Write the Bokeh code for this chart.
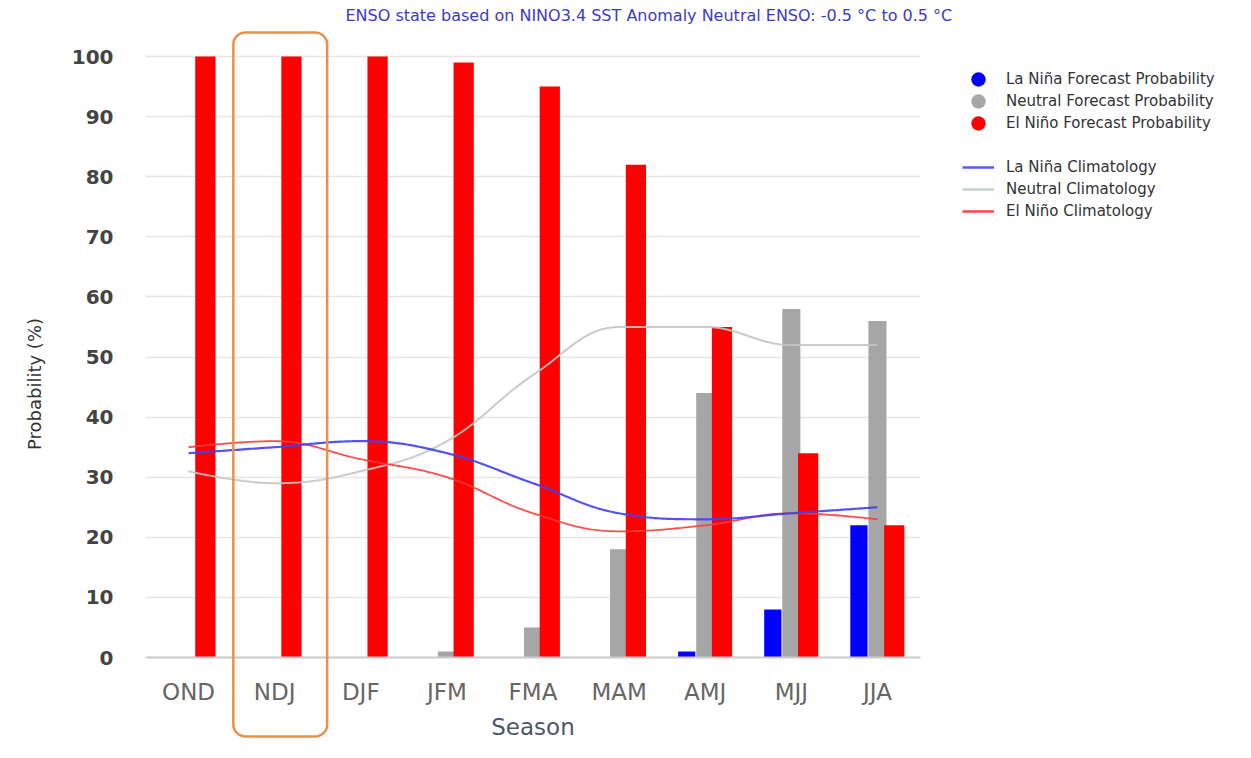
import numpy as np
from bokeh.plotting import figure
from bokeh.layouts import row
from bokeh.models import (Range1d, Legend, LegendItem, BoxAnnotation, FixedTicker)
from bokeh.embed import file_html
from bokeh.resources import INLINE

# ---------------- data ----------------
seasons = ["OND", "NDJ", "DJF", "JFM", "FMA", "MAM", "AMJ", "MJJ", "JJA"]
lanina_fcst = [0, 0, 0, 0, 0, 0, 1, 8, 22]
neutral_fcst = [0, 0, 0, 1, 5, 18, 44, 58, 56]
elnino_fcst = [100, 100, 100, 99, 95, 82, 55, 34, 22]
lanina_clim = [34, 35, 36, 34, 29, 24, 23, 24, 25]
neutral_clim = [31, 29, 31, 36, 47, 55, 55, 52, 52]
elnino_clim = [35, 36, 33, 30, 24, 21, 22, 24, 23]
y_ticks = [0, 10, 20, 30, 40, 50, 60, 70, 80, 90, 100]
highlight_season = "NDJ"
title_text = "ENSO state based on NINO3.4 SST Anomaly Neutral ENSO: -0.5 \u00b0C to 0.5 \u00b0C"

FONT = "DejaVu Sans"
C_LANINA, C_NEUTRAL, C_ELNINO = "#0000ff", "#a6a6a6", "#ff0000"
xs = np.arange(len(seasons))


def spline_path(xv, yv, smoothing=1.5, n=40):
    """Highcharts-style spline through the given points (rendering only)."""
    pts = list(zip([float(v) for v in xv], [float(v) for v in yv]))
    N = len(pts)
    lc = [None] * N
    rc = [None] * N
    d = smoothing + 1
    for i in range(1, N - 1):
        px, py = pts[i]
        lx, ly = pts[i - 1]
        nx, ny = pts[i + 1]
        lcx = (smoothing * px + lx) / d
        lcy = (smoothing * py + ly) / d
        rcx = (smoothing * px + nx) / d
        rcy = (smoothing * py + ny) / d
        corr = ((rcy - lcy) * (rcx - px)) / (rcx - lcx) + py - rcy
        lcy += corr
        rcy += corr
        if lcy > ly and lcy > py:
            lcy = max(ly, py); rcy = 2 * py - lcy
        elif lcy < ly and lcy < py:
            lcy = min(ly, py); rcy = 2 * py - lcy
        if rcy > ny and rcy > py:
            rcy = max(ny, py); lcy = 2 * py - rcy
        elif rcy < ny and rcy < py:
            rcy = min(ny, py); lcy = 2 * py - rcy
        lc[i] = (lcx, lcy)
        rc[i] = (rcx, rcy)
    ox, oy = [pts[0][0]], [pts[0][1]]
    t = np.linspace(0, 1, n)[1:]
    for i in range(1, N):
        p0 = pts[i - 1]
        p3 = pts[i]
        p1 = rc[i - 1] if rc[i - 1] else p0
        p2 = lc[i] if lc[i] else p3
        bx = ((1 - t) ** 3) * p0[0] + 3 * ((1 - t) ** 2) * t * p1[0] + 3 * (1 - t) * t ** 2 * p2[0] + t ** 3 * p3[0]
        by = ((1 - t) ** 3) * p0[1] + 3 * ((1 - t) ** 2) * t * p1[1] + 3 * (1 - t) * t ** 2 * p2[1] + t ** 3 * p3[1]
        ox.extend(bx.tolist())
        oy.extend(by.tolist())
    return ox, oy


H = 742
p = figure(width=960, height=H, output_backend="svg", toolbar_location=None,
           x_range=Range1d(-0.5, len(seasons) - 0.5), y_range=Range1d(-14.14, 105.16),
           min_border_left=145, min_border_right=40, min_border_top=25,
           min_border_bottom=0)
p.outline_line_color = None
p.background_fill_color = "white"
p.border_fill_color = "white"

# title
p.title.text = title_text
p.title.align = "left"
p.title.offset = 200
p.title.standoff = 2
p.title.text_font = FONT
p.title.text_font_size = "16px"
p.title.text_font_style = "normal"
p.title.text_color = "#3c3cc0"

# x axis drawn at y = 0 inside the frame
p.xaxis.fixed_location = 0
p.xaxis.ticker = FixedTicker(ticks=list(xs))
p.xaxis.major_label_overrides = {int(i): s for i, s in zip(xs, seasons)}
p.xaxis.axis_label = "Season"
p.xaxis.axis_label_text_font = FONT
p.xaxis.axis_label_text_font_size = "23px"
p.xaxis.axis_label_text_font_style = "normal"
p.xaxis.axis_label_text_color = "#4a5868"
p.xaxis.axis_label_standoff = 6
p.xaxis.major_label_text_font = FONT
p.xaxis.major_label_text_font_size = "23px"
p.xaxis.major_label_text_color = "#666666"
p.xaxis.major_label_standoff = 21
p.xaxis.axis_line_color = "#cccccc"
p.xaxis.axis_line_width = 2
p.xaxis.major_tick_line_color = None
p.xaxis.major_tick_out = 0
p.xaxis.major_tick_in = 0
p.xaxis.minor_tick_line_color = None

p.yaxis.ticker = FixedTicker(ticks=y_ticks)
p.yaxis.axis_label = "Probability (%)"
p.yaxis.axis_label_text_font = FONT
p.yaxis.axis_label_text_font_size = "18px"
p.yaxis.axis_label_text_font_style = "normal"
p.yaxis.axis_label_text_color = "#333333"
p.yaxis.axis_label_standoff = 24
p.yaxis.major_label_text_font = FONT
p.yaxis.major_label_text_font_size = "20px"
p.yaxis.major_label_text_font_style = "bold"
p.yaxis.major_label_text_color = "#444444"
p.yaxis.major_label_standoff = 32
p.yaxis.axis_line_color = None
p.yaxis.major_tick_line_color = None
p.yaxis.major_tick_out = 0
p.yaxis.major_tick_in = 0
p.yaxis.minor_tick_line_color = None

p.xgrid.grid_line_color = None
p.ygrid.grid_line_color = "#e6e6e6"
p.ygrid.grid_line_width = 1.5

# bars
p.vbar(x=xs - 0.215, top=lanina_fcst, width=0.2, bottom=0, color=C_LANINA, line_color=None)
p.vbar(x=xs + 0.0, top=neutral_fcst, width=0.21, bottom=0, color=C_NEUTRAL, line_color=None)
p.vbar(x=xs + 0.195, top=elnino_fcst, width=0.235, bottom=0, color=C_ELNINO, line_color=None)

# climatology splines
lx, ly = spline_path(xs, lanina_clim)
nx, ny = spline_path(xs, neutral_clim)
ex, ey = spline_path(xs, elnino_clim)
p.line(nx, ny, line_color="#c4c4c4", line_width=2, line_alpha=0.9)
p.line(ex, ey, line_color="#ff3a3a", line_width=1.8, line_alpha=0.9)
p.line(lx, ly, line_color="#4040f0", line_width=2.2, line_alpha=0.9)

# highlight box around the selected season
hi = seasons.index(highlight_season)
box = BoxAnnotation(left=hi - 0.48, right=hi + 0.61, top=103.99, bottom=-13.14,
                    fill_alpha=0, line_color="#e8914b", line_alpha=1.0,
                    line_width=2.5, border_radius=12)
p.add_layout(box)

# ---------------- legend panel (own figure so it is not clipped) ----------------
q = figure(width=275, height=H, output_backend="svg", toolbar_location=None,
           x_range=Range1d(0, 1), y_range=Range1d(0, 1),
           x_axis_location=None, y_axis_location=None, min_border=0)
q.outline_line_color = None
q.grid.visible = False
q.background_fill_color = "white"
q.border_fill_color = "white"

nan1 = [float("nan")]
nan2 = [float("nan"), float("nan")]
d_l = q.ellipse(x=nan1, y=nan1, width=10, height=10, width_units="screen",
                height_units="screen", fill_color=C_LANINA, line_color=None)
d_n = q.ellipse(x=nan1, y=nan1, width=10, height=10, width_units="screen",
                height_units="screen", fill_color=C_NEUTRAL, line_color=None)
d_e = q.ellipse(x=nan1, y=nan1, width=10, height=10, width_units="screen",
                height_units="screen", fill_color=C_ELNINO, line_color=None)
d_blank = q.ellipse(x=nan1, y=nan1, width=10, height=10, width_units="screen",
                    height_units="screen", fill_alpha=0, line_alpha=0)
l_l = q.line(x=nan2, y=nan2, line_color="#5a5af0", line_width=2.5)
l_n = q.line(x=nan2, y=nan2, line_color="#c8d0cc", line_width=2.5)
l_e = q.line(x=nan2, y=nan2, line_color="#f04a4a", line_width=2.5)

legend = Legend(items=[
    LegendItem(label="La Ni\u00f1a Forecast Probability", renderers=[d_l]),
    LegendItem(label="Neutral Forecast Probability", renderers=[d_n]),
    LegendItem(label="El Ni\u00f1o Forecast Probability", renderers=[d_e]),
    LegendItem(label=" ", renderers=[d_blank]),
    LegendItem(label="La Ni\u00f1a Climatology", renderers=[l_l]),
    LegendItem(label="Neutral Climatology", renderers=[l_n]),
    LegendItem(label="El Ni\u00f1o Climatology", renderers=[l_e]),
], location=(2, 520))
legend.glyph_width = 32
legend.glyph_height = 18
legend.label_height = 22
legend.spacing = 0
legend.label_standoff = 12
legend.label_text_font = FONT
legend.label_text_font_size = "15px"
legend.label_text_color = "#333333"
legend.padding = 0
legend.margin = 0
legend.border_line_color = None
legend.background_fill_alpha = 0
q.add_layout(legend, "center")

layout = row(p, q)
open("out.html", "w").write(file_html(layout, INLINE))
